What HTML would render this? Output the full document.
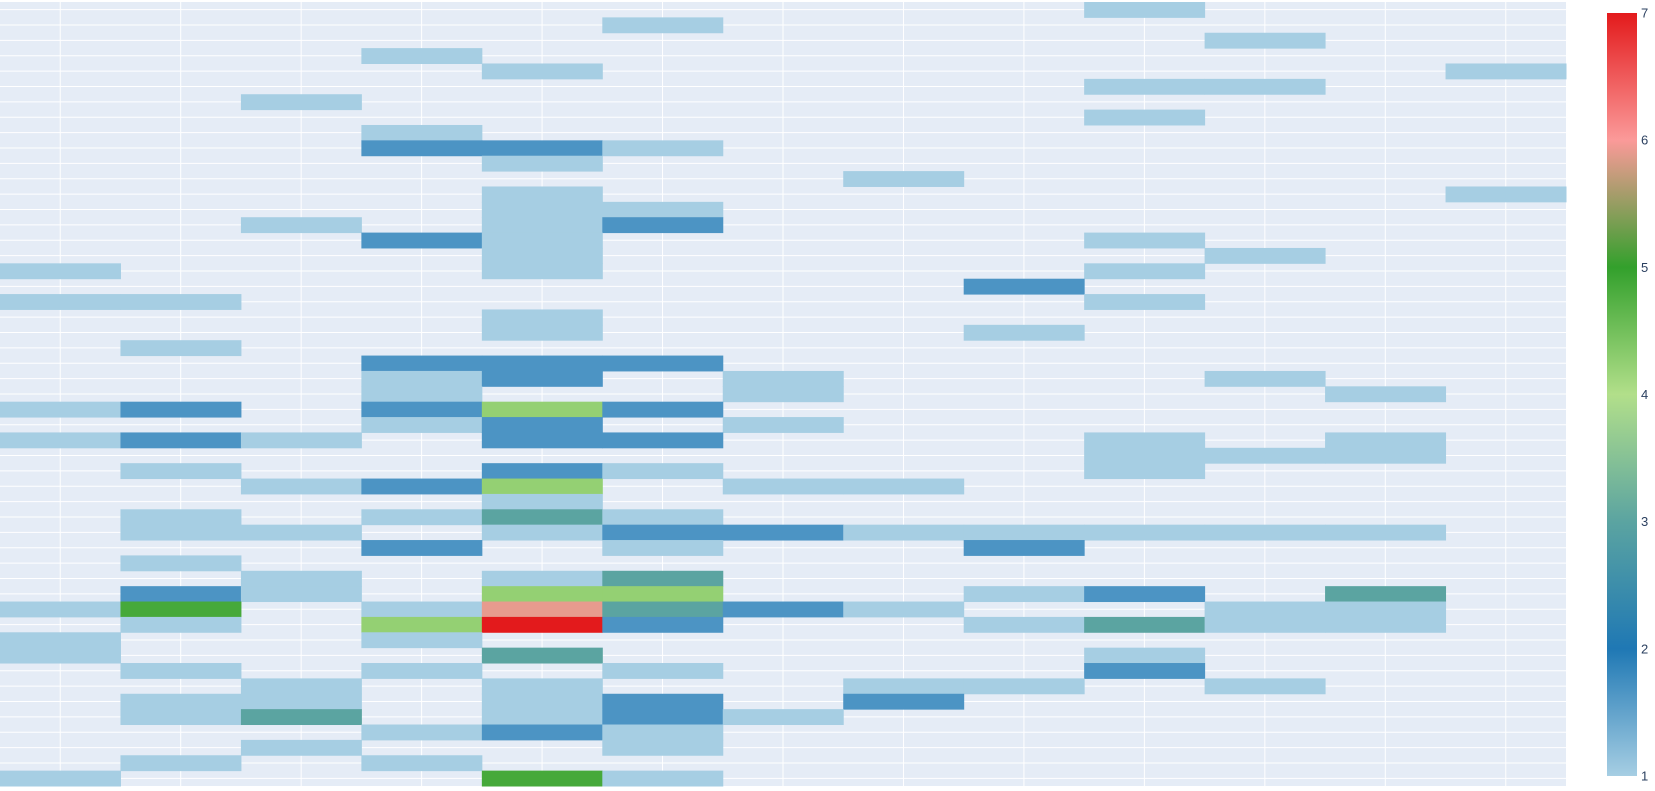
<!DOCTYPE html>
<html><head><meta charset="utf-8">
<style>
html,body{margin:0;padding:0;background:#fff;width:1655px;height:791px;overflow:hidden;font-family:"Liberation Sans",sans-serif;}
</style></head>
<body>
<svg id="chart" width="1655" height="791" xmlns="http://www.w3.org/2000/svg">
<defs>
<linearGradient id="cbgrad" x1="0" y1="1" x2="0" y2="0">
<stop offset="0" stop-color="#a6cee3"/>
<stop offset="0.1667" stop-color="#1f78b4"/>
<stop offset="0.3333" stop-color="#5ba4a1"/>
<stop offset="0.5" stop-color="#b2df8a"/>
<stop offset="0.6667" stop-color="#33a02c"/>
<stop offset="0.8333" stop-color="#fb9a99"/>
<stop offset="1" stop-color="#e31a1c"/>
</linearGradient>
</defs>
<rect x="0" y="2" width="1566" height="784" fill="#e5ecf6"/>
<g id="grid"></g>
<g id="cells"></g>
<rect x="1607" y="13" width="30" height="763" fill="url(#cbgrad)"/>
<g id="cbticks"></g>
</svg>
<script>
const colCount = 13;
const cbTicks = [1,2,3,4,5,6,7];
const colorStops = [1,2,3,4,5,6,7];
const colorHex = ["#a6cee3","#1f78b4","#5ba4a1","#b2df8a","#33a02c","#fb9a99","#e31a1c"];
const B=1.67,T=3,G=4.24,D=4.85,S=5.9,R=7;
const z = [
[0,0,0,0,0,0,0,0,0,1,0,0,0],
[0,0,0,0,0,1,0,0,0,0,0,0,0],
[0,0,0,0,0,0,0,0,0,0,1,0,0],
[0,0,0,1,0,0,0,0,0,0,0,0,0],
[0,0,0,0,1,0,0,0,0,0,0,0,1],
[0,0,0,0,0,0,0,0,0,1,1,0,0],
[0,0,1,0,0,0,0,0,0,0,0,0,0],
[0,0,0,0,0,0,0,0,0,1,0,0,0],
[0,0,0,1,0,0,0,0,0,0,0,0,0],
[0,0,0,B,B,1,0,0,0,0,0,0,0],
[0,0,0,0,1,0,0,0,0,0,0,0,0],
[0,0,0,0,0,0,0,1,0,0,0,0,0],
[0,0,0,0,1,0,0,0,0,0,0,0,1],
[0,0,0,0,1,1,0,0,0,0,0,0,0],
[0,0,1,0,1,B,0,0,0,0,0,0,0],
[0,0,0,B,1,0,0,0,0,1,0,0,0],
[0,0,0,0,1,0,0,0,0,0,1,0,0],
[1,0,0,0,1,0,0,0,0,1,0,0,0],
[0,0,0,0,0,0,0,0,B,0,0,0,0],
[1,1,0,0,0,0,0,0,0,1,0,0,0],
[0,0,0,0,1,0,0,0,0,0,0,0,0],
[0,0,0,0,1,0,0,0,1,0,0,0,0],
[0,1,0,0,0,0,0,0,0,0,0,0,0],
[0,0,0,B,B,B,0,0,0,0,0,0,0],
[0,0,0,1,B,0,1,0,0,0,1,0,0],
[0,0,0,1,0,0,1,0,0,0,0,1,0],
[1,B,0,B,G,B,0,0,0,0,0,0,0],
[0,0,0,1,B,0,1,0,0,0,0,0,0],
[1,B,1,0,B,B,0,0,0,1,0,1,0],
[0,0,0,0,0,0,0,0,0,1,1,1,0],
[0,1,0,0,B,1,0,0,0,1,0,0,0],
[0,0,1,B,G,0,1,1,0,0,0,0,0],
[0,0,0,0,1,0,0,0,0,0,0,0,0],
[0,1,0,1,T,1,0,0,0,0,0,0,0],
[0,1,1,0,1,B,B,1,1,1,1,1,0],
[0,0,0,B,0,1,0,0,B,0,0,0,0],
[0,1,0,0,0,0,0,0,0,0,0,0,0],
[0,0,1,0,1,T,0,0,0,0,0,0,0],
[0,B,1,0,G,G,0,0,1,B,0,T,0],
[1,D,0,1,S,T,B,1,0,0,1,1,0],
[0,1,0,G,R,B,0,0,1,T,1,1,0],
[1,0,0,1,0,0,0,0,0,0,0,0,0],
[1,0,0,0,T,0,0,0,0,1,0,0,0],
[0,1,0,1,0,1,0,0,0,B,0,0,0],
[0,0,1,0,1,0,0,1,1,0,1,0,0],
[0,1,1,0,1,B,0,B,0,0,0,0,0],
[0,1,T,0,1,B,1,0,0,0,0,0,0],
[0,0,0,1,B,1,0,0,0,0,0,0,0],
[0,0,1,0,0,1,0,0,0,0,0,0,0],
[0,1,0,1,0,0,0,0,0,0,0,0,0],
[1,0,0,0,D,1,0,0,0,0,0,0,0]
];
const NS="http://www.w3.org/2000/svg";
const X0=0,X1=1566,Y0=2,Y1=786;
const nRows=z.length;
const cw=(X1-X0)/colCount, rh=(Y1-Y0)/nRows;
function xPos(c){return X0+c*cw;}
function yPos(r){return Y0+r*rh;}
function hex2rgb(h){return [1,3,5].map(i=>parseInt(h.substr(i,2),16));}
function colorFor(v){
  if(v<=colorStops[0])return colorHex[0];
  for(let i=1;i<colorStops.length;i++){
    if(v<=colorStops[i]){
      const t=(v-colorStops[i-1])/(colorStops[i]-colorStops[i-1]);
      const a=hex2rgb(colorHex[i-1]),b=hex2rgb(colorHex[i]);
      return "rgb("+a.map((x,k)=>Math.round(x+(b[k]-x)*t)).join(",")+")";
    }
  }
  return colorHex[colorHex.length-1];
}
const grid=document.getElementById('grid');
for(let c=0;c<colCount;c++){
  const l=document.createElementNS(NS,'line');
  const x=xPos(c+0.5);
  l.setAttribute('x1',x);l.setAttribute('x2',x);l.setAttribute('y1',Y0);l.setAttribute('y2',Y1);
  l.setAttribute('stroke','#fff');l.setAttribute('stroke-width','1');
  
  
  grid.appendChild(l);
}
for(let r=0;r<nRows;r++){
  const l=document.createElementNS(NS,'line');
  const y=yPos(r+0.5);
  l.setAttribute('x1',X0);l.setAttribute('x2',X1);l.setAttribute('y1',y);l.setAttribute('y2',y);
  l.setAttribute('stroke','#fff');l.setAttribute('stroke-width','1');
  
  
  grid.appendChild(l);
}
const cells=document.getElementById('cells');
for(let r=0;r<nRows;r++){
  for(let c=0;c<colCount;c++){
    const v=z[r][c];
    if(!v)continue;
    const rect=document.createElementNS(NS,'rect');
    rect.setAttribute('x',xPos(c));rect.setAttribute('y',yPos(r));
    rect.setAttribute('width',cw+0.5);rect.setAttribute('height',rh+0.5);
    rect.setAttribute('fill',colorFor(v));
    
    
    cells.appendChild(rect);
  }
}
const cbt=document.getElementById('cbticks');
const cbTop=13,cbBot=776;
for(const t of cbTicks){
  const y=cbBot-(t-1)/6*(cbBot-cbTop);
  const tx=document.createElementNS(NS,'text');
  tx.setAttribute('x',1641);tx.setAttribute('y',y+4.5);
  tx.setAttribute('font-size','13');tx.setAttribute('fill','#2a3f5f');
  tx.textContent=t;
  
  
  cbt.appendChild(tx);
}
</script>
</body></html>
